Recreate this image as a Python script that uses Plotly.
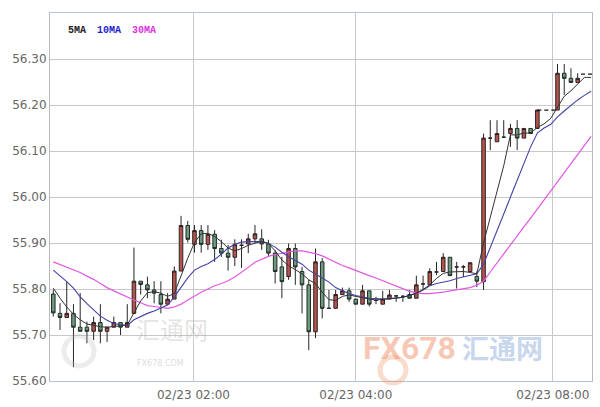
import plotly.graph_objects as go

# ---------------- data ----------------
idx = list(range(81))

opens = [55.789, 55.747, 55.738, 55.747, 55.717, 55.717, 55.708, 55.727, 55.708, 55.717,
         55.727, 55.717, 55.747, 55.817, 55.809, 55.798, 55.788, 55.767, 55.778, 55.839,
         55.938, 55.897, 55.927, 55.897, 55.919, 55.888, 55.878, 55.869, 55.895, 55.898,
         55.909, 55.909, 55.898, 55.878, 55.848, 55.827, 55.888, 55.838, 55.809, 55.707,
         55.859, 55.758, 55.758, 55.788, 55.796, 55.778, 55.767, 55.796, 55.775, 55.767,
         55.778, 55.785, 55.784, 55.788, 55.780, 55.811, 55.809, 55.837, 55.838, 55.869,
         55.848, 55.848, 55.838, 55.827, 55.816, 56.128, 56.120, 56.130, 56.138, 56.149,
         56.128, 56.149, 56.149, None, None, 56.189, 56.269, 56.258, 56.249, None,
         None]
highs = [55.798, 55.769, 55.816, 55.767, 55.791, 55.729, 55.740, 55.767, 55.717, 55.740,
         55.727, 55.767, 55.890, 55.817, 55.827, 55.817, 55.817, 55.791, 55.849, 55.959,
         55.948, 55.939, 55.939, 55.939, 55.928, 55.907, 55.896, 55.908, 55.908, 55.920,
         55.939, 55.930, 55.907, 55.885, 55.870, 55.899, 55.899, 55.848, 55.820, 55.888,
         55.867, 55.798, 55.798, 55.803, 55.803, 55.778, 55.809, 55.796, 55.783, 55.796,
         55.798, 55.787, 55.787, 55.798, 55.829, 55.829, 55.845, 55.859, 55.878, 55.869,
         55.859, 55.852, 55.859, 55.838, 56.138, 56.167, 56.167, 56.167, 56.159, 56.167,
         56.149, 56.149, 56.189, None, None, 56.289, 56.289, 56.280, 56.269, None,
         None]
lows = [55.740, 55.711, 55.738, 55.630, 55.708, 55.682, 55.689, 55.682, 55.685, 55.717,
        55.700, 55.717, 55.747, 55.788, 55.780, 55.769, 55.747, 55.767, 55.778, 55.839,
        55.901, 55.879, 55.879, 55.885, 55.859, 55.870, 55.840, 55.850, 55.846, 55.878,
        55.899, 55.885, 55.870, 55.812, 55.780, 55.820, 55.809, 55.747, 55.667, 55.693,
        55.736, 55.758, 55.758, 55.788, 55.772, 55.767, 55.767, 55.762, 55.767, 55.767,
        55.778, 55.772, 55.772, 55.780, 55.780, 55.800, 55.809, 55.830, 55.838, 55.829,
        55.801, 55.826, 55.838, 55.804, 55.798, 56.102, 56.120, 56.130, 56.109, 56.102,
        56.128, 56.138, 56.149, None, None, 56.189, 56.222, 56.249, 56.249, None,
        None]
closes = [55.748, 55.738, 55.747, 55.717, 55.708, 55.708, 55.727, 55.708, 55.717, 55.727,
          55.717, 55.727, 55.817, 55.810, 55.798, 55.791, 55.767, 55.778, 55.839, 55.938,
          55.908, 55.927, 55.897, 55.919, 55.888, 55.878, 55.869, 55.897, 55.895, 55.909,
          55.920, 55.898, 55.878, 55.838, 55.816, 55.888, 55.848, 55.809, 55.707, 55.859,
          55.758, 55.758, 55.788, 55.796, 55.778, 55.767, 55.796, 55.767, 55.775, 55.778,
          55.787, 55.785, 55.784, 55.780, 55.809, 55.811, 55.838, 55.837, 55.869, 55.829,
          55.848, 55.848, 55.857, 55.817, 56.128, 56.128, 56.138, 56.130, 56.149, 56.128,
          56.149, 56.138, 56.189, None, None, 56.269, 56.258, 56.249, 56.258, None,
          None]

ma5 = [55.802, 55.780, 55.761, 55.745, 55.733, 55.724, 55.721, 55.718, 55.717, 55.718,
       55.720, 55.722, 55.748, 55.774, 55.792, 55.794, 55.791, 55.784, 55.790, 55.830,
       55.867, 55.901, 55.920, 55.921, 55.914, 55.903, 55.889, 55.883, 55.888, 55.895,
       55.900, 55.904, 55.899, 55.883, 55.863, 55.851, 55.842, 55.833, 55.820, 55.812,
       55.793, 55.777, 55.775, 55.784, 55.787, 55.784, 55.780, 55.778, 55.776, 55.778,
       55.779, 55.780, 55.782, 55.786, 55.791, 55.799, 55.809, 55.823, 55.834, 55.837,
       55.838, 55.838, 55.836, 55.833, 55.900, 55.956, 56.014, 56.068, 56.135, 56.135,
       56.139, 56.139, 56.151, 56.159, 56.171, 56.195, 56.219, 56.231, 56.245, 56.260,
       56.260]
ma10 = [55.841, 55.829, 55.816, 55.802, 55.783, 55.768, 55.754, 55.741, 55.732, 55.725,
        55.722, 55.721, 55.733, 55.740, 55.747, 55.752, 55.758, 55.765, 55.783, 55.804,
        55.824, 55.841, 55.849, 55.855, 55.864, 55.876, 55.889, 55.897, 55.902, 55.903,
        55.903, 55.903, 55.899, 55.891, 55.880, 55.870, 55.862, 55.854, 55.841, 55.833,
        55.824, 55.815, 55.803, 55.796, 55.790, 55.786, 55.783, 55.780, 55.779, 55.778,
        55.779, 55.780, 55.782, 55.786, 55.791, 55.798, 55.807, 55.812, 55.815, 55.818,
        55.823, 55.826, 55.829, 55.833, 55.854, 55.889, 55.926, 55.963, 56.000, 56.037,
        56.072, 56.109, 56.139, 56.150, 56.158, 56.174, 56.187, 56.200, 56.211, 56.221,
        56.230]
ma30 = [55.859, 55.853, 55.848, 55.842, 55.836, 55.828, 55.821, 55.812, 55.803, 55.796,
        55.789, 55.783, 55.776, 55.770, 55.764, 55.762, 55.760, 55.758, 55.761, 55.767,
        55.776, 55.785, 55.793, 55.800, 55.807, 55.812, 55.818, 55.826, 55.836, 55.847,
        55.858, 55.865, 55.871, 55.875, 55.878, 55.880, 55.883, 55.883, 55.880, 55.877,
        55.872, 55.865, 55.858, 55.851, 55.846, 55.840, 55.835, 55.829, 55.824, 55.818,
        55.813, 55.807, 55.800, 55.795, 55.792, 55.790, 55.790, 55.791, 55.793, 55.796,
        55.798, 55.800, 55.803, 55.808, 55.817, 55.837, 55.857, 55.876, 55.896, 55.915,
        55.935, 55.954, 55.974, 55.993, 56.013, 56.033, 56.053, 56.073, 56.092, 56.112,
        56.132]

# flat (no-trade) stretches shown dashed
flat1_idx = [72, 75]
flat1_price = [56.189, 56.189]
flat2_idx = [78.5, 80.5]
flat2_price = [56.267, 56.267]

y_ticks = [55.60, 55.70, 55.80, 55.90, 56.00, 56.10, 56.20, 56.30]
x_tick_pos = [20.85, 45.0, 74.3]
x_tick_text = ["02/23 02:00", "02/23 04:00", "02/23 08:00"]

# ---------------- figure ----------------
fig = go.Figure()

for xs, ys in ((flat1_idx, flat1_price), (flat2_idx, flat2_price)):
    fig.add_trace(go.Scatter(x=xs, y=ys, mode="lines",
                             line=dict(color="#111111", width=1.3, dash="4px,3px"),
                             hoverinfo="skip", showlegend=False))

fig.add_trace(go.Candlestick(
    x=idx, open=opens, high=highs, low=lows, close=closes,
    increasing=dict(line=dict(color="#2b2222", width=1), fillcolor="#b5534c"),
    decreasing=dict(line=dict(color="#222b25", width=1), fillcolor="#6e9a80"),
    whiskerwidth=0, showlegend=False))

fig.add_trace(go.Scatter(x=idx, y=ma30, mode="lines",
                         line=dict(color="#e157e1", width=1.2), showlegend=False))
fig.add_trace(go.Scatter(x=idx, y=ma10, mode="lines",
                         line=dict(color="#4343a6", width=1.1), showlegend=False))
fig.add_trace(go.Scatter(x=idx, y=ma5, mode="lines",
                         line=dict(color="#333333", width=1), showlegend=False))

# MA legend text
for label, color, xpos in (("5MA", "#222222", 66), ("10MA", "#1f1fd0", 95), ("30MA", "#dd33dd", 130)):
    fig.add_annotation(text="<b>" + label + "</b>", xref="paper", yref="paper",
                       x=(xpos - 50) / 542, y=(381 - 30) / 368,
                       xanchor="left", yanchor="middle", showarrow=False,
                       font=dict(family="Liberation Mono", size=10, color=color))

# watermarks
fig.add_shape(type="circle", xref="paper", yref="paper",
              x0=(64 - 50) / 542, x1=(94 - 50) / 542,
              y0=(381 - 366) / 368, y1=(381 - 336) / 368,
              line=dict(color="rgba(180,180,180,0.25)", width=5))
fig.add_annotation(text="汇通网", xref="paper", yref="paper",
                   x=(134 - 50) / 542, y=(381 - 348) / 368, showarrow=False,
                   font=dict(family="Noto Sans CJK SC", size=24, color="rgba(160,160,160,0.3)"))
fig.add_annotation(text="FX678.COM", xref="paper", yref="paper",
                   x=(135 - 50) / 542, y=(381 - 370) / 368, showarrow=False,
                   font=dict(family="DejaVu Sans", size=8, color="rgba(160,160,160,0.4)"))
fig.add_shape(type="circle", xref="paper", yref="paper",
              x0=(380 - 50) / 542, x1=(406 - 50) / 542,
              y0=(381 - 383) / 368, y1=(381 - 357) / 368,
              line=dict(color="rgba(240,140,90,0.3)", width=5))
fig.add_annotation(text="<b>FX678</b>", xref="paper", yref="paper",
                   x=(458 - 50) / 542, y=(381 - 369) / 368, showarrow=False,
                   font=dict(family="Roboto", size=32, color="rgba(240,130,90,0.45)"))
fig.add_annotation(text="<b>汇通网</b>", xref="paper", yref="paper",
                   x=(545 - 50) / 542, y=(381 - 369) / 368, showarrow=False,
                   font=dict(family="Noto Sans CJK SC", size=27, color="rgba(110,150,210,0.4)"))

fig.update_layout(
    width=600, height=407,
    margin=dict(l=50, r=8, t=13, b=26, autoexpand=False),
    paper_bgcolor="white", plot_bgcolor="white",
    showlegend=False,
    boxgap=0.25,
    font=dict(family="DejaVu Sans", size=12, color="#666666"),
    xaxis=dict(range=[-0.49, 80.13], rangeslider=dict(visible=False),
               tickvals=x_tick_pos, ticktext=x_tick_text, showgrid=True,
               gridcolor="#c8c8c8", gridwidth=1, zeroline=False, automargin=False,
               showline=True, linecolor="#b8c4d0", linewidth=1, mirror=True,
               ticks="", ticklabelstandoff=3, tickfont=dict(size=12, color="#666666")),
    yaxis=dict(range=[55.6, 56.4], tickvals=y_ticks, tickformat=".2f",
               showgrid=True, gridcolor="#c8c8c8", gridwidth=1, zeroline=False,
               automargin=False,
               showline=True, linecolor="#b8b8b8", linewidth=1, mirror=True,
               ticks="", tickfont=dict(size=12, color="#666666")),
)

fig.write_html("out.html", config={"displayModeBar": False},
               post_script="document.body.style.margin='0';document.body.style.overflow='hidden';")
